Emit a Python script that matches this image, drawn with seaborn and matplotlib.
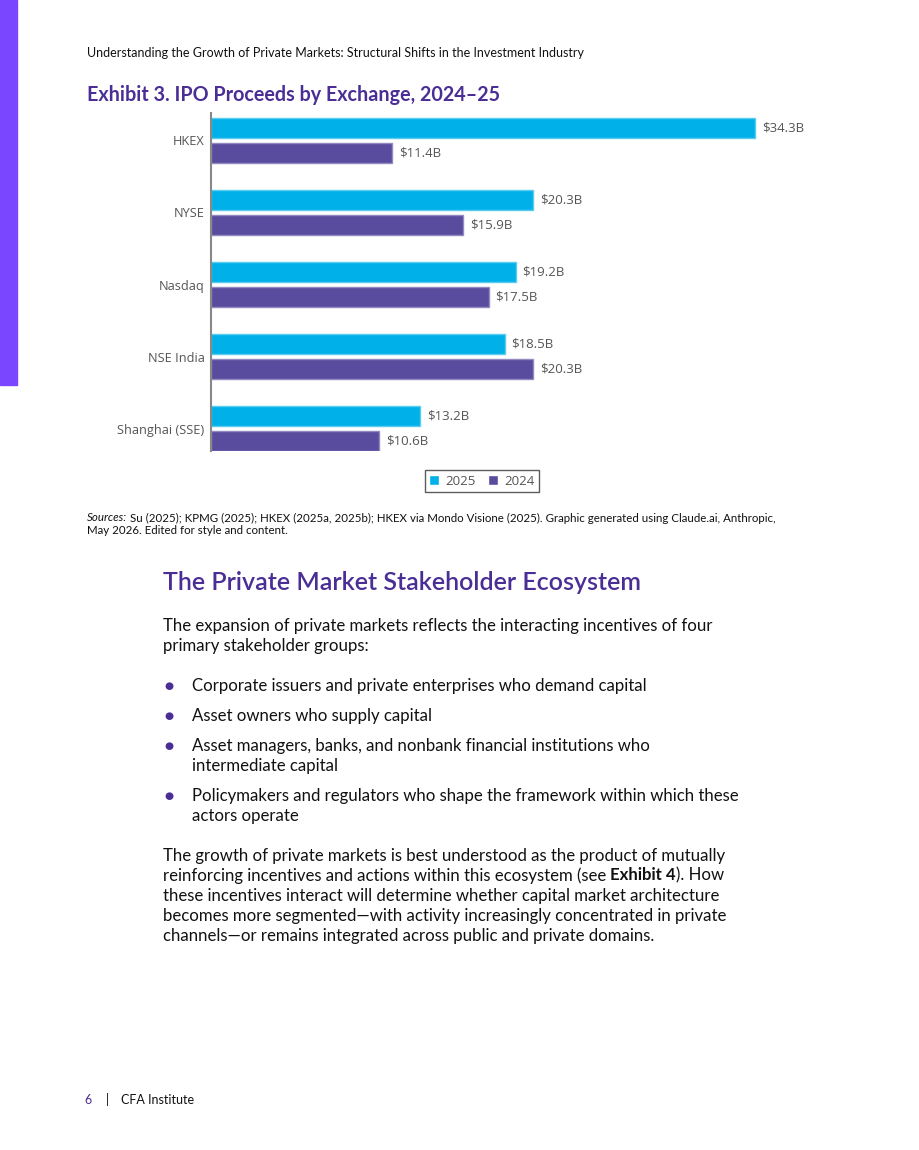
import pandas as pd
import seaborn as sns
from matplotlib import pyplot as plt
from matplotlib.patches import Rectangle
from matplotlib.colors import to_rgb

exchanges = ["HKEX", "NYSE", "Nasdaq", "NSE India", "Shanghai (SSE)"]
years = ["2025", "2024"]
proceeds_2025 = [34.3, 20.3, 19.2, 18.5, 13.2]
proceeds_2024 = [11.4, 15.9, 17.5, 20.3, 10.6]

bullets = [
    ["Corporate issuers and private enterprises who demand capital"],
    ["Asset owners who supply capital"],
    ["Asset managers, banks, and nonbank financial institutions who", "intermediate capital"],
    ["Policymakers and regulators who shape the framework within which these", "actors operate"],
]

cyan = "#00B0E8"
purple = "#594C9E"
title_purple = "#4A2E96"
gray = "#555555"

W, H = 920, 1150


def px(x, y):
    return x / W, 1 - y / H


sns.set_theme(style="white")
plt.rcParams['font.family'] = ['Lato', 'DejaVu Sans']

df = pd.DataFrame({
    "exchange": exchanges * 2,
    "year": ["2025"] * 5 + ["2024"] * 5,
    "proceeds": proceeds_2025 + proceeds_2024,
})

fig = plt.figure(figsize=(9.2, 11.5), dpi=100)
ax = fig.add_axes([211 / W, 1 - 451 / H, (806 - 211) / W, (451 - 113) / H])

sns.barplot(data=df, y="exchange", x="proceeds", hue="year", hue_order=years,
            palette=[cyan, purple], orient="h", width=0.69, gap=0.2,
            saturation=1, ax=ax)

# lighter outline around each bar
for cont, col in zip(ax.containers, [cyan, purple]):
    r, g, b = to_rgb(col)
    for bar in cont:
        bar.set_edgecolor((r + (1 - r) * 0.35, g + (1 - g) * 0.35, b + (1 - b) * 0.35))
        bar.set_linewidth(1)
    vals = [b.get_width() for b in cont]
    ax.bar_label(cont, labels=[f"${v:.1f}B" for v in vals], padding=5,
                 fontsize=9.5, color=gray, family="Open Sans")

ax.set_xlim(0, 37.5)
ax.set_ylim(4.31, -0.38)
ax.set_xticks([])
ax.set_xlabel("")
ax.set_ylabel("")
ax.tick_params(axis="y", length=0, pad=4.5)
for lab in ax.get_yticklabels():
    lab.set_fontsize(9.2)
    lab.set_color(gray)
    lab.set_family("Open Sans")
for s in ["top", "right", "bottom"]:
    ax.spines[s].set_visible(False)
ax.spines["left"].set_color("#888888")
ax.spines["left"].set_linewidth(1.5)

leg = ax.legend(loc="center", bbox_to_anchor=px(482, 481), bbox_transform=fig.transFigure,
                ncol=2, frameon=True, fancybox=False, handlelength=0.75, handleheight=0.75,
                handletextpad=0.5, columnspacing=0.9, borderpad=0.35,
                prop={"family": "Open Sans", "size": 9.5})
leg.get_frame().set_edgecolor("#333333")
leg.get_frame().set_linewidth(1)
for t in leg.get_texts():
    t.set_color(gray)

# purple side band
fig.patches.append(Rectangle((0, 1 - 385 / H), 17 / W, 385 / H, transform=fig.transFigure,
                             color="#7B46FF", zorder=0))

fig.text(*px(87, 52), "Understanding the Growth of Private Markets: Structural Shifts in the Investment Industry",
         fontsize=9.04, color="#111111", va="center_baseline")
fig.text(*px(87, 93), "Exhibit 3. IPO Proceeds by Exchange, 2024\u201325",
         fontsize=14.2, color=title_purple, weight="bold", va="center_baseline")

renderer = fig.canvas.get_renderer()


def run_text(x, y, parts, gap=0, **kw):
    # draw pieces of one line one after another
    for txt, extra in parts:
        t = fig.text(*px(x, y), txt, va="center_baseline", **kw, **extra)
        bb = t.get_window_extent(renderer)
        x += bb.width + gap


run_text(87, 517, [("Sources:", {"style": "italic"}),
                   ("Su (2025); KPMG (2025); HKEX (2025a, 2025b); HKEX via Mondo Visione (2025). Graphic generated using Claude.ai, Anthropic,", {})],
         gap=3, fontsize=8.3, color="#111111")
fig.text(*px(87, 530), "May 2026. Edited for style and content.", fontsize=8.3, color="#111111",
         va="center_baseline")

fig.text(*px(163, 580), "The Private Market Stakeholder Ecosystem", fontsize=18,
         color=title_purple, weight="semibold", va="center_baseline")

body = dict(fontsize=12.1, color="#111111", va="center_baseline")
fig.text(*px(163, 624), "The expansion of private markets reflects the interacting incentives of four", **body)
fig.text(*px(163, 644), "primary stakeholder groups:", **body)

y = 684
for lines in bullets:
    fig.text(*px(169, y + 2), "\u25CF", fontsize=7.5, color=title_purple, va="center", ha="center",
             family="DejaVu Sans")
    for line in lines:
        fig.text(*px(192, y), line, **body)
        y += 20
    y += 10

para = ["The growth of private markets is best understood as the product of mutually",
        None,
        "these incentives interact will determine whether capital market architecture",
        "becomes more segmented\u2014with activity increasingly concentrated in private",
        "channels\u2014or remains integrated across public and private domains."]
y = 854
for line in para:
    if line is None:
        run_text(163, y, [("reinforcing incentives and actions within this ecosystem (see ", {}),
                          ("Exhibit 4", {"weight": "bold"}),
                          ("). How", {})],
                 fontsize=12.1, color="#111111")
    else:
        fig.text(*px(163, y), line, **body)
    y += 20

fig.text(*px(88, 1099), "6", fontsize=9, color=title_purple, va="center_baseline", ha="center")
fig.text(*px(107, 1099), "|", fontsize=9, color="#111111", va="center_baseline", ha="center")
fig.text(*px(121, 1099), "CFA Institute", fontsize=9, color="#111111", va="center_baseline")

fig.savefig("out.png", dpi=100)
